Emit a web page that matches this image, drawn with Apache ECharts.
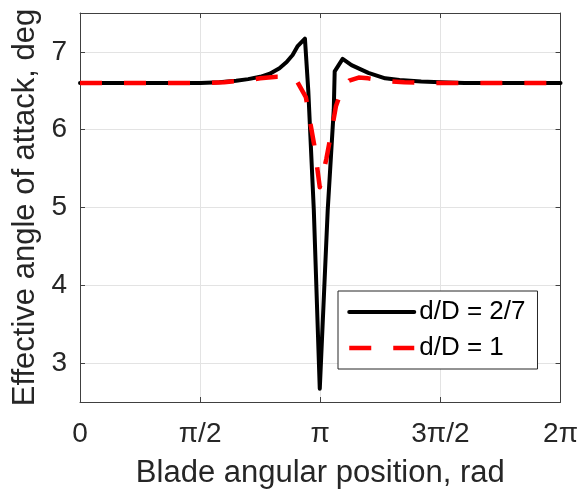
<!DOCTYPE html>
<html>
<head>
<meta charset="utf-8">
<script src="https://cdn.jsdelivr.net/npm/echarts@6/dist/echarts.min.js"></script>
<style>
html,body{margin:0;padding:0;background:#fff;}
#chart{width:581px;height:494px;}
</style>
</head>
<body>
<div id="chart"></div>
<script>
// Blade angular position (rad) and effective angle of attack (deg)
const xBlack = [0, 1.571, 1.822, 2.042, 2.199, 2.356, 2.482, 2.608, 2.702, 2.780, 2.843, 2.941, 2.985, 3.057, 3.135, 3.239, 3.318, 3.330, 3.434, 3.550, 3.770, 3.990, 4.178, 4.461, 4.712, 5.027, 6.283];
const yBlack = [6.6, 6.6, 6.61, 6.63, 6.65, 6.68, 6.72, 6.79, 6.87, 6.96, 7.07, 7.17, 6.5, 4.97, 2.67, 4.97, 6.26, 6.75, 6.91, 6.83, 6.73, 6.66, 6.64, 6.62, 6.61, 6.6, 6.6];
const xRed = [0, 1.571, 1.885, 2.199, 2.356, 2.576, 2.733, 2.827, 2.953, 3.000, 3.063, 3.135, 3.220, 3.283, 3.346, 3.424, 3.519, 3.644, 3.770, 3.958, 4.241, 4.555, 6.283];
const yRed = [6.6, 6.6, 6.61, 6.64, 6.66, 6.68, 6.68, 6.64, 6.42, 6.15, 5.8, 5.26, 5.62, 5.95, 6.3, 6.52, 6.63, 6.67, 6.66, 6.63, 6.61, 6.6, 6.6];
const seriesNames = ['d/D = 2/7', 'd/D = 1'];
const xTickValues = [0, Math.PI / 2, Math.PI, 3 * Math.PI / 2, 2 * Math.PI];
const xTickLabels = ['0', 'π/2', 'π', '3π/2', '2π'];
const yTickValues = [3, 4, 5, 6, 7];

const FONT = '"Liberation Sans", Arial, sans-serif';
const TXT = '#262626';
const AX = '#404040';
const GRIDC = '#e3e3e3';
const BLACK_STYLE = {color: '#000', width: 4, join: 'round', cap: 'round'};
const RED_STYLE = {color: '#ff0000', width: 4.5, type: [22, 22], cap: 'butt', join: 'round'};

function zip(xs, ys) { return xs.map((x, i) => [x, ys[i]]); }
function xLabel(v) {
  const i = Math.round(v / (Math.PI / 2));
  return xTickLabels[i] !== undefined ? xTickLabels[i] : '';
}

const chart = echarts.init(document.getElementById('chart'), null, {renderer: 'canvas'});
const baseX = {
  type: 'value', min: 0, max: 2 * Math.PI,
  axisLine: {show: true, onZero: false, lineStyle: {color: AX, width: 1}},
};
const baseY = {
  type: 'value', min: 2.5, max: 7.5,
  axisLine: {show: true, onZero: false, lineStyle: {color: AX, width: 1}},
};
chart.setOption({
  animation: false,
  backgroundColor: '#fff',
  grid: {left: 80, right: 18, top: 13, bottom: 91, containLabel: false},
  xAxis: [
    Object.assign({}, baseX, {
      position: 'bottom',
      name: 'Blade angular position, rad',
      nameLocation: 'middle', nameGap: 56,
      nameTextStyle: {fontFamily: FONT, fontSize: 31, color: TXT},
      axisTick: {show: true, inside: true, length: 5, customValues: xTickValues, lineStyle: {color: AX}},
      axisLabel: {show: true, customValues: xTickValues, formatter: xLabel, fontFamily: FONT, fontSize: 28, color: TXT, margin: 18},
      splitLine: {show: true, lineStyle: {color: GRIDC, width: 1}}
    }),
    Object.assign({}, baseX, {
      position: 'top',
      axisTick: {show: true, inside: true, length: 5, customValues: xTickValues, lineStyle: {color: AX}},
      axisLabel: {show: false},
      splitLine: {show: false}
    })
  ],
  yAxis: [
    Object.assign({}, baseY, {
      position: 'left',
      name: 'Effective angle of attack, deg',
      nameLocation: 'middle', nameGap: 36, nameRotate: 90,
      nameTextStyle: {fontFamily: FONT, fontSize: 31, color: TXT},
      axisTick: {show: true, inside: true, length: 5, customValues: yTickValues, lineStyle: {color: AX}},
      axisLabel: {show: true, customValues: yTickValues, fontFamily: FONT, fontSize: 28, color: TXT, margin: 13},
      splitLine: {show: true, lineStyle: {color: GRIDC, width: 1}}
    }),
    Object.assign({}, baseY, {
      position: 'right',
      axisTick: {show: true, inside: true, length: 5, customValues: yTickValues, lineStyle: {color: AX}},
      axisLabel: {show: false},
      splitLine: {show: false}
    })
  ],
  legend: {
    show: true, orient: 'vertical',
    left: 338, top: 291,
    padding: [7, 12, 7, 9],
    itemGap: 8, itemWidth: 65, itemHeight: 14,
    borderColor: '#262626', borderWidth: 1, backgroundColor: '#fff',
    itemStyle: {opacity: 0},
    textStyle: {fontFamily: FONT, fontSize: 26, color: '#000', lineHeight: 28},
    data: [
      {name: seriesNames[0], lineStyle: BLACK_STYLE, itemStyle: {opacity: 0}},
      {name: seriesNames[1], lineStyle: RED_STYLE, itemStyle: {opacity: 0}}
    ]
  },
  series: [
    {
      name: seriesNames[0], type: 'line', data: zip(xBlack, yBlack),
      symbol: 'none', showSymbol: false, smooth: false,
      itemStyle: {color: '#000'},
      lineStyle: BLACK_STYLE,
      z: 2
    },
    {
      name: seriesNames[1], type: 'line', data: zip(xRed, yRed),
      symbol: 'none', showSymbol: false, smooth: false,
      itemStyle: {color: '#ff0000'},
      lineStyle: RED_STYLE,
      z: 3
    }
  ]
});
</script>
</body>
</html>
